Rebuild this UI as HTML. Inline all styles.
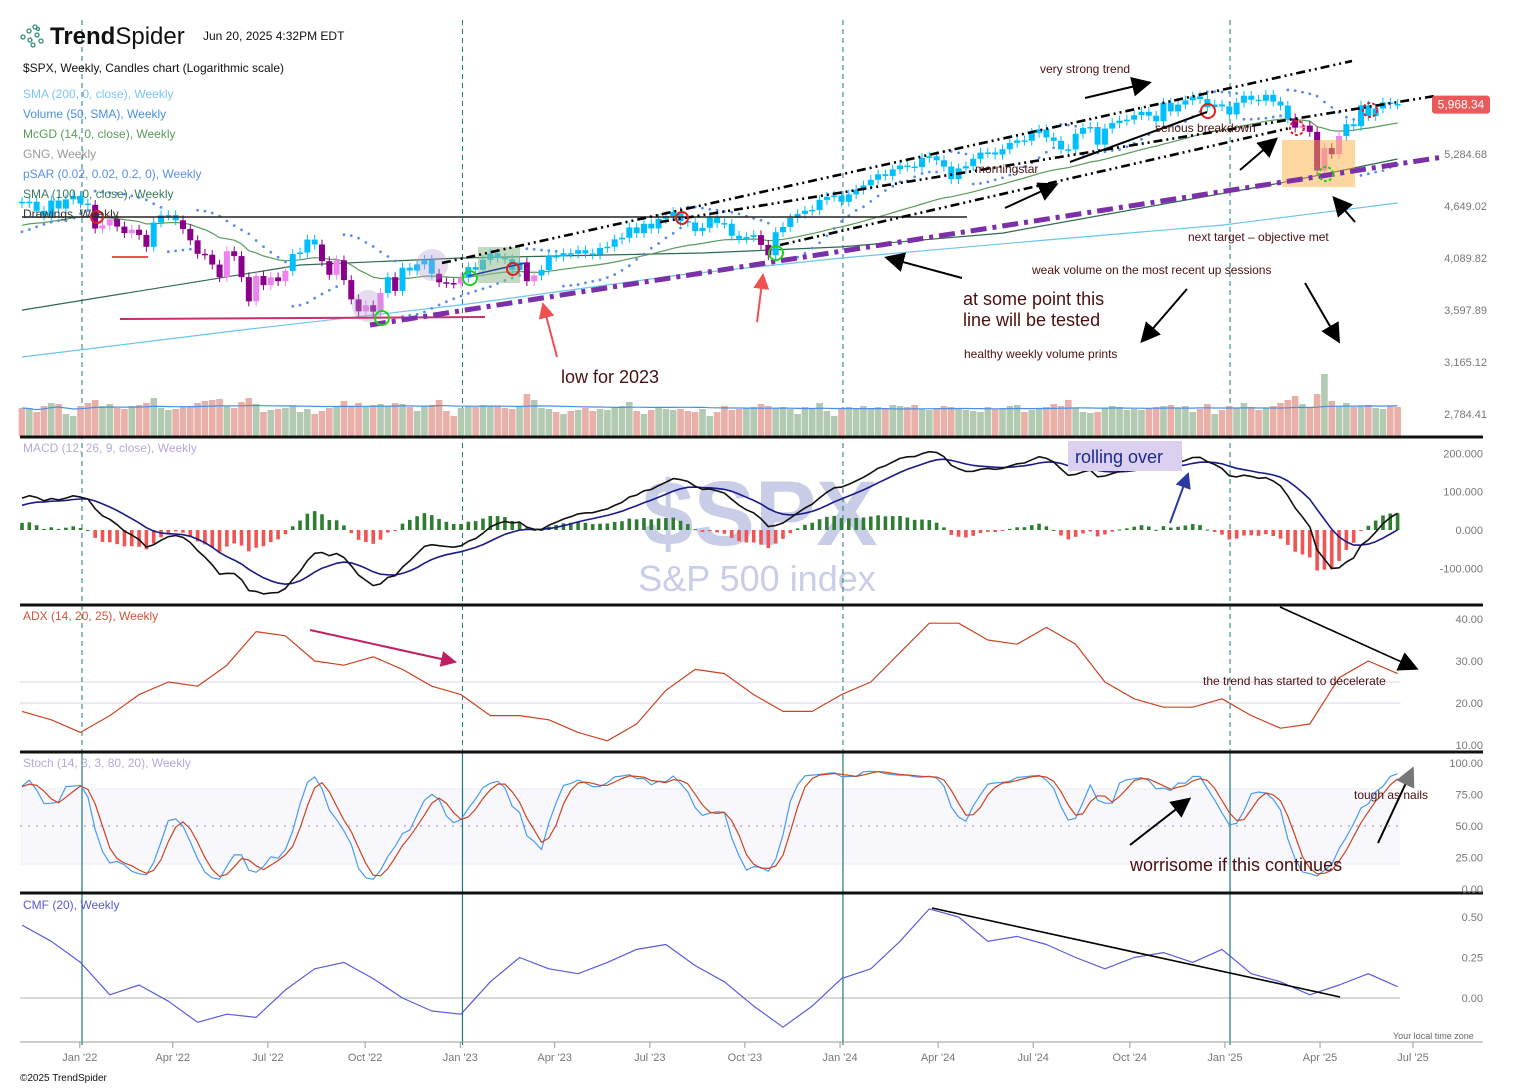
<!DOCTYPE html>
<html><head><meta charset="utf-8"><title>SPX Weekly</title>
<style>
html,body{margin:0;padding:0;background:#fff;}
#wrap{position:relative;width:1513px;height:1088px;overflow:hidden;font-family:"Liberation Sans",sans-serif;}
svg{position:absolute;left:0;top:0;}
text{font-family:"Liberation Sans",sans-serif;}
</style></head>
<body>
<div id="wrap">
<svg id="chart" width="1513" height="1088" viewBox="0 0 1513 1088">
<defs>
<marker id="ahR" markerWidth="20" markerHeight="20" refX="14" refY="8" orient="auto" markerUnits="userSpaceOnUse"><path d="M0,0 L16,8 L0,16 Z" fill="#f05050"/></marker>
<marker id="ahK" markerWidth="24" markerHeight="24" refX="16" refY="10" orient="auto" markerUnits="userSpaceOnUse"><path d="M0,0 L20,10 L0,20 Z" fill="#000"/></marker>
<marker id="ahN" markerWidth="20" markerHeight="20" refX="14" refY="8" orient="auto" markerUnits="userSpaceOnUse"><path d="M0,0 L16,8 L0,16 Z" fill="#2a3aa0"/></marker>
<marker id="ahM" markerWidth="20" markerHeight="20" refX="14" refY="8" orient="auto" markerUnits="userSpaceOnUse"><path d="M0,0 L16,8 L0,16 Z" fill="#c02060"/></marker>
<marker id="ahG" markerWidth="24" markerHeight="24" refX="16" refY="10" orient="auto" markerUnits="userSpaceOnUse"><path d="M0,0 L20,10 L0,20 Z" fill="#777"/></marker>
</defs>
<g id="bg">
  <rect x="20" y="789" width="1380" height="75" fill="#f7f7fc"/>
  <line x1="20" y1="826" x2="1400" y2="826" stroke="#b9a6dc" stroke-dasharray="2,6" stroke-width="1.5"/>
  <line x1="20" y1="789" x2="1400" y2="789" stroke="#ececf6"/>
  <line x1="20" y1="864" x2="1400" y2="864" stroke="#ececf6"/>
  <line x1="20" y1="682" x2="1400" y2="682" stroke="#d8d0ec"/>
  <line x1="20" y1="703" x2="1400" y2="703" stroke="#d8d0ec"/>
  <line x1="20" y1="998" x2="1400" y2="998" stroke="#b0b0b0"/>
  <text x="760" y="545" font-size="92" font-weight="bold" fill="#c9cde8" text-anchor="middle">$SPX</text>
  <text x="757" y="591" font-size="36" fill="#c9cde8" text-anchor="middle">S&amp;P 500 index</text>
</g>
<g id="vlines"></g>
<g id="series"></g>
<g id="annot">
  <rect x="478" y="247" width="42" height="36" fill="#8fbc8f" opacity="0.55"/>
  <rect x="1282" y="140" width="73" height="47" fill="#fbb040" opacity="0.5"/>
  <circle cx="432" cy="265" r="16" fill="#b89ad0" opacity="0.35"/>
  <circle cx="368" cy="306" r="16" fill="#b89ad0" opacity="0.35"/>
  <line x1="22" y1="217" x2="967" y2="217" stroke="#222" stroke-width="1.6"/>
  <line x1="112" y1="257" x2="148" y2="257" stroke="#f05050" stroke-width="2"/>
  <line x1="120" y1="319" x2="485" y2="317" stroke="#c8306a" stroke-width="2"/>
  <line x1="442" y1="263" x2="1352" y2="61" stroke="#000" stroke-width="2.6" stroke-dasharray="9,4,2,4,2,4"/>
  <line x1="660" y1="222" x2="1435" y2="96" stroke="#000" stroke-width="2.6" stroke-dasharray="9,4,2,4,2,4"/>
  <line x1="780" y1="245" x2="1290" y2="128" stroke="#000" stroke-width="2.6" stroke-dasharray="9,4,2,4,2,4"/>
  <line x1="468" y1="276" x2="525" y2="263" stroke="#2a3aa0" stroke-width="1.5"/>
  <line x1="370" y1="325" x2="1443" y2="157" stroke="#7b2fa8" stroke-width="5" stroke-dasharray="16,6,4,6"/>
  <circle cx="97" cy="217" r="6" fill="none" stroke="#e02020" stroke-width="2"/>
  <circle cx="682" cy="218" r="6" fill="none" stroke="#e02020" stroke-width="2"/>
  <circle cx="513" cy="269" r="6" fill="none" stroke="#e02020" stroke-width="2"/>
  <circle cx="1208" cy="111" r="7" fill="none" stroke="#e02020" stroke-width="2"/>
  <circle cx="1297" cy="128" r="7" fill="none" stroke="#e02020" stroke-width="2" stroke-dasharray="3,2"/>
  <circle cx="1370" cy="110" r="7" fill="none" stroke="#e02020" stroke-width="2" stroke-dasharray="3,2"/>
  <circle cx="382" cy="318" r="7" fill="none" stroke="#20d020" stroke-width="2"/>
  <circle cx="470" cy="278" r="7" fill="none" stroke="#20d020" stroke-width="2"/>
  <circle cx="776" cy="253" r="7" fill="none" stroke="#20d020" stroke-width="2"/>
  <circle cx="1326" cy="174" r="7" fill="none" stroke="#20d020" stroke-width="2" stroke-dasharray="3,2"/>
  <line x1="1085" y1="98" x2="1148" y2="83" stroke="#000" stroke-width="2" marker-end="url(#ahK)"/>
  <line x1="1070" y1="162" x2="1207" y2="112" stroke="#000" stroke-width="2"/>
  <line x1="1240" y1="170" x2="1275" y2="140" stroke="#000" stroke-width="2" marker-end="url(#ahK)"/>
  <line x1="1005" y1="208" x2="1055" y2="185" stroke="#000" stroke-width="2" marker-end="url(#ahK)"/>
  <line x1="962" y1="278" x2="888" y2="258" stroke="#000" stroke-width="2" marker-end="url(#ahK)"/>
  <line x1="1355" y1="222" x2="1335" y2="199" stroke="#000" stroke-width="2" marker-end="url(#ahK)"/>
  <line x1="1187" y1="289" x2="1143" y2="340" stroke="#000" stroke-width="2" marker-end="url(#ahK)"/>
  <line x1="1305" y1="283" x2="1338" y2="340" stroke="#000" stroke-width="2" marker-end="url(#ahK)"/>
  <line x1="557" y1="357" x2="543" y2="304" stroke="#f05050" stroke-width="2" marker-end="url(#ahR)"/>
  <line x1="757" y1="322" x2="763" y2="275" stroke="#f05050" stroke-width="2" marker-end="url(#ahR)"/>
  <rect x="1068" y="441" width="114" height="30" fill="#dcd0f0"/>
  <line x1="1170" y1="523" x2="1188" y2="474" stroke="#2a3aa0" stroke-width="2" marker-end="url(#ahN)"/>
  <line x1="310" y1="630" x2="455" y2="662" stroke="#c02060" stroke-width="2" marker-end="url(#ahM)"/>
  <line x1="1280" y1="607" x2="1415" y2="668" stroke="#000" stroke-width="1.6" marker-end="url(#ahK)"/>
  <line x1="1130" y1="845" x2="1188" y2="800" stroke="#000" stroke-width="2" marker-end="url(#ahK)"/>
  <line x1="1378" y1="843" x2="1412" y2="770" stroke="#000" stroke-width="2" marker-end="url(#ahG)"/>
  <line x1="932" y1="908" x2="1340" y2="997" stroke="#000" stroke-width="1.6"/>
  <g fill="#4a1010" font-size="12">
    <text x="1040" y="73">very strong trend</text>
    <text x="975" y="173">morningstar</text>
    <text x="1155" y="132">serious breakdown</text>
    <text x="1188" y="241">next target – objective met</text>
    <text x="1032" y="274">weak volume on the most recent up sessions</text>
    <text x="963" y="305" font-size="18">at some point this</text>
    <text x="963" y="326" font-size="18">line will be tested</text>
    <text x="964" y="358">healthy weekly volume prints</text>
    <text x="561" y="383" font-size="18">low for 2023</text>
    <text x="1075" y="463" font-size="18" fill="#1a2a8a">rolling over</text>
    <text x="1203" y="685">the trend has started to decelerate</text>
    <text x="1354" y="799">tough as nails</text>
    <text x="1130" y="871" font-size="18">worrisome if this continues</text>
  </g>
</g>
<g id="panels">
  <line x1="20" y1="437" x2="1483" y2="437" stroke="#111" stroke-width="3"/>
  <line x1="20" y1="605" x2="1483" y2="605" stroke="#111" stroke-width="3"/>
  <line x1="20" y1="752" x2="1483" y2="752" stroke="#111" stroke-width="3"/>
  <line x1="20" y1="893" x2="1483" y2="893" stroke="#111" stroke-width="3"/>
  <line x1="20" y1="1042" x2="1483" y2="1042" stroke="#999" stroke-width="1"/>
</g>
<g id="axes"></g>
<g id="header">
  <g fill="none" stroke="#2e8b7a" stroke-width="1.3">
    <circle cx="23" cy="37" r="2"/><circle cx="29" cy="31" r="2"/><circle cx="35" cy="27" r="2"/><circle cx="30" cy="40" r="2"/><circle cx="37" cy="35" r="2"/><circle cx="41" cy="41" r="2"/><circle cx="33" cy="45" r="2"/><circle cx="38" cy="29" r="1.5"/>
  </g>
  <text x="50" y="44" font-size="24" fill="#111"><tspan font-weight="bold">Trend</tspan>Spider</text>
  <text x="203" y="40" font-size="12" fill="#111">Jun 20, 2025 4:32PM EDT</text>
  <text x="23" y="72" font-size="12" fill="#111">$SPX, Weekly, Candles chart (Logarithmic scale)</text>
  <text x="23" y="98" font-size="12" fill="#79c7f2">SMA (200, 0, close), Weekly</text>
  <text x="23" y="118" font-size="12" fill="#4a90e2">Volume (50, SMA), Weekly</text>
  <text x="23" y="138" font-size="12" fill="#5a9a5a">McGD (14, 0, close), Weekly</text>
  <text x="23" y="158" font-size="12" fill="#999">GNG, Weekly</text>
  <text x="23" y="178" font-size="12" fill="#5b8fe6">pSAR (0.02, 0.02, 0.2, 0), Weekly</text>
  <text x="23" y="198" font-size="12" fill="#3a7a5a">SMA (100, 0, close), Weekly</text>
  <text x="23" y="218" font-size="12" fill="#333">Drawings, Weekly</text>
  <text x="23" y="452" font-size="12" fill="#b8a8d8">MACD (12, 26, 9, close), Weekly</text>
  <text x="23" y="620" font-size="12" fill="#d2553a">ADX (14, 20, 25), Weekly</text>
  <text x="23" y="767" font-size="12" fill="#b8a8d8">Stoch (14, 3, 3, 80, 20), Weekly</text>
  <text x="23" y="909" font-size="12" fill="#5a5ad8">CMF (20), Weekly</text>
  <text x="1393" y="1039" font-size="9" fill="#666">Your local time zone</text>
  <text x="20" y="1081" font-size="10" fill="#111">©2025 TrendSpider</text>
</g>
</svg>
</div>
<script>
const warmCloses=[4230,4247,4166,4281,4352,4370,4327,4412,4395,4437,4468,4442,4509,4528,4536,4458,4432,4455,4357,4391,4471,4545,4605,4566,4697];
const weekCloses=[4682,4698,4594,4538,4712,4620,4725,4766,
4677,4662,4398,4432,4500,4419,4349,4385,4329,4204,4463,4543,4546,4488,4393,4272,4132,4123,4024,3901,4158,4109,3901,3675,3912,3825,3899,3863,3962,4130,4145,4280,4228,4058,3924,4067,3873,3693,3586,3640,3583,3752,3901,3771,3993,3965,4026,4072,3934,3852,3845,3840,
3895,3999,3973,4071,4136,4090,4079,3970,4046,3862,3917,3971,4109,4105,4138,4133,4169,4136,4124,4192,4205,4282,4299,4410,4348,4450,4399,4505,4536,4582,4478,4464,4370,4406,4516,4457,4450,4320,4288,4308,4327,4224,4117,4358,4415,4514,4559,4595,4604,4719,4755,4770,
4697,4784,4840,4891,4959,5027,5006,5089,5137,5124,5117,5234,5254,5204,5123,4967,5100,5128,5223,5303,5305,5278,5347,5432,5465,5460,5567,5615,5505,5459,5346,5344,5554,5634,5648,5408,5626,5703,5738,5751,5815,5864,5808,5729,5995,5870,5969,6032,6090,6051,5931,5971,
5942,5827,5997,6101,6041,6026,6115,6013,5955,5770,5639,5668,5581,5074,5363,5283,5525,5687,5660,5958,5803,5912,6000,5977,5968.34];
const weekVolumes=[28,27,24,30,33,32,22,20,
30,33,36,30,32,28,27,30,31,33,38,28,26,27,29,30,33,35,36,37,30,28,34,38,32,24,26,27,28,30,24,27,22,25,28,30,35,29,33,30,31,32,30,33,32,29,25,30,31,36,25,20,
28,30,29,31,30,30,28,27,30,42,36,28,27,24,22,25,26,28,25,27,26,28,30,34,25,22,26,28,27,26,27,25,24,27,20,24,30,26,27,28,29,32,30,28,29,27,22,29,27,33,25,20,
28,29,27,30,27,29,28,31,30,29,31,27,26,28,30,29,27,26,25,24,29,27,28,30,31,24,26,28,29,32,30,36,28,24,23,24,28,30,29,26,27,26,28,29,30,31,28,30,24,27,32,22,
26,30,28,33,29,26,28,30,33,36,40,32,28,42,62,35,30,33,29,30,31,28,27,30,29];
const adxValues=[18,16,13,17,22,25,24,29,37,36,30,29,31,28,24,22,17,17,16,13,11,15,23,28,27,22,18,18,22,25,32,39,39,35,34,38,34,25,21,19,19,21,17,14,15,26,30,27];
const cmfValues=[0.45,0.35,0.22,0.02,0.08,-0.02,-0.15,-0.1,-0.12,0.05,0.18,0.22,0.12,0.0,-0.08,-0.1,0.1,0.25,0.18,0.15,0.22,0.3,0.33,0.2,0.1,-0.05,-0.18,-0.05,0.12,0.18,0.35,0.55,0.5,0.35,0.38,0.33,0.25,0.18,0.25,0.28,0.22,0.3,0.15,0.1,0.02,0.08,0.15,0.07];
const sma200Idx=[0,30,60,90,112,140,164,188];
const sma200Values=[3204,3425,3643,3923,4090,4275,4435,4683];
const sma100Idx=[0,38,60,93,112,134,172,188];
const sma100Values=[3597,4020,4090,4140,4203,4349,4920,5220];
const priceTicks=[5284.68,4649.02,4089.82,3597.89,3165.12,2784.41];
const macdTicks=[200,100,0,-100];
const adxTicks=[40,30,20,10];
const stochTicks=[100,75,50,25,0];
const cmfTicks=[0.5,0.25,0];
const xLabels=["Jan '22","Apr '22","Jul '22","Oct '22","Jan '23","Apr '23","Jul '23","Oct '23","Jan '24","Apr '24","Jul '24","Oct '24","Jan '25","Apr '25","Jul '25"];
const xLabelIdx=[7.9,20.6,33.6,46.9,59.9,72.8,85.8,98.8,111.8,125.2,138.2,151.4,164.4,177.4,190.1];
const markerIdx=[8.2,60.2,112.2,165.1];

const NS='http://www.w3.org/2000/svg';
function xOf(i){return 22+i*7.317;}
function yP(p){return 154-Math.log(p/5284.68)*405.7;}
function yM(v){return 530-v*0.383;}
function yA(v){return 703-(v-20)*4.2;}
function yS(v){return 889-v*1.26;}
function yC(v){return 998-v*162;}
function el(tag,attrs,parent){const e=document.createElementNS(NS,tag);for(const k in attrs)e.setAttribute(k,attrs[k]);parent.appendChild(e);return e;}
const S=document.getElementById('series');
const AX=document.getElementById('axes');
const VL=document.getElementById('vlines');

markerIdx.forEach(function(m){
  const a=el('line',{x1:xOf(m),y1:20,x2:xOf(m),y2:752,stroke:'#1a7a7a','stroke-dasharray':'5,4','stroke-width':1},VL);
  
  
  const b=el('line',{x1:xOf(m),y1:752,x2:xOf(m),y2:1045,stroke:'#1a7a7a','stroke-width':1.2},VL);
  
  
});

const W=warmCloses.length;
const all=warmCloses.concat(weekCloses);
const n=weekCloses.length;
function ema(arr,p){const k=2/(p+1);const out=[];let v=arr[0];for(let i=0;i<arr.length;i++){v=i==0?arr[0]:arr[i]*k+v*(1-k);out.push(v);}return out;}
const opens=[],highs=[],lows=[];
for(let i=0;i<all.length;i++){const o=i==0?all[0]:all[i-1];opens.push(o);highs.push(Math.max(o,all[i])*1.012);lows.push(Math.min(o,all[i])*0.988);}
const md=[];{let m=all[0];for(let i=0;i<all.length;i++){if(i>0)m=m+(all[i]-m)/(14*Math.pow(all[i]/m,4));md.push(m);}}
const e12=ema(all,12),e26=ema(all,26);
const macd=all.map(function(v,i){return e12[i]-e26[i];});
const sig=ema(macd,9);
const rawK=all.map(function(c,i){const s=Math.max(0,i-13);let hi=-1e9,lo=1e9;for(let j=s;j<=i;j++){hi=Math.max(hi,highs[j]);lo=Math.min(lo,lows[j]);}return (c-lo)/(hi-lo)*100;});
function sma(arr,p){return arr.map(function(v,i){const s=Math.max(0,i-p+1);let t=0;for(let j=s;j<=i;j++)t+=arr[j];return t/(i-s+1);});}
const kS=sma(rawK,3),dS=sma(kS,3);
const sar=[];{let up=true,af=0.02,ep=highs[0],s=lows[0];for(let i=0;i<all.length;i++){if(i>0){s=s+af*(ep-s);if(up){s=Math.min(s,lows[i-1],i>1?lows[i-2]:lows[i-1]);if(lows[i]<s){up=false;s=ep;ep=lows[i];af=0.02;}else if(highs[i]>ep){ep=highs[i];af=Math.min(0.2,af+0.02);}}else{s=Math.max(s,highs[i-1],i>1?highs[i-2]:highs[i-1]);if(highs[i]>s){up=true;s=ep;ep=highs[i];af=0.02;}else if(lows[i]<ep){ep=lows[i];af=Math.min(0.2,af+0.02);}}}sar.push(s);}}
const volSma=sma(weekVolumes,50);

function poly(pts,stroke,w,name){const p=el('polyline',{points:pts.map(function(q){return q[0].toFixed(1)+','+q[1].toFixed(1);}).join(' '),fill:'none',stroke:stroke,'stroke-width':w,'stroke-linejoin':'round'},S);return p;}

for(let i=0;i<n;i++){
  const up=all[W+i]>=opens[W+i];
  const h=weekVolumes[i];
  const r=el('rect',{x:xOf(i)-3.3,y:436-h,width:6.6,height:h,fill:up?'#b2c9b2':'#e8b0a8'},S);
  
  
}
poly(volSma.map(function(v,i){return [xOf(i),436-v];}),'#4a90e2',1.2,'volume-sma-line');

poly(sma200Idx.map(function(ix,k){return [xOf(ix),yP(sma200Values[k])];}),'#6cc4f0',1.2,'sma200-line');
poly(sma100Idx.map(function(ix,k){return [xOf(ix),yP(sma100Values[k])];}),'#2e6a4e',1.2,'sma100-line');
poly(md.slice(W).map(function(v,i){return [xOf(i),yP(v)];}),'#5a9a5a',1.2,'mcgd-line');
for(let i=0;i<n;i++){
  const c=el('circle',{cx:xOf(i),cy:yP(sar[W+i]),r:1.4,fill:'#5b8fe6'},S);
  
  
}
for(let i=0;i<n;i++){
  const j=W+i,c=all[j],o=opens[j];
  let col;
  const rising=md[j]>md[j-1];
  if(c>md[j]){col=rising?'#00bfff':'#7fffd4';}
  else if(rising){col='#d2691e';}
  else{col=c<o?'#8b008b':'#ee82ee';}
  const x=xOf(i);
  const wk=el('line',{x1:x,y1:yP(highs[j]),x2:x,y2:yP(lows[j]),stroke:col,'stroke-width':1},S);
  
  
  const top=yP(Math.max(o,c)),bot=yP(Math.min(o,c));
  const b=el('rect',{x:x-3,y:top,width:6,height:Math.max(1.5,bot-top),fill:col},S);
  
  
}
for(let i=0;i<n;i++){
  const h=macd[W+i]-sig[W+i];
  const y0=yM(0),y1=yM(h);
  const r=el('rect',{x:xOf(i)-1.8,y:Math.min(y0,y1),width:3.6,height:Math.max(1,Math.abs(y1-y0)),fill:h>=0?'#2e7d32':'#f05454'},S);
  
  
}
poly(sig.slice(W).map(function(v,i){return [xOf(i),yM(v)];}),'#1a1a8a',1.6,'macd-signal-line');
poly(macd.slice(W).map(function(v,i){return [xOf(i),yM(v)];}),'#111',1.6,'macd-line');
poly(adxValues.map(function(v,k){return [xOf(k*4),yA(v)];}),'#cc4422',1.2,'adx-line');
poly(kS.slice(W).map(function(v,i){return [xOf(i),yS(v)];}),'#4a9af0',1.2,'stoch-k-line');
poly(dS.slice(W).map(function(v,i){return [xOf(i),yS(v)];}),'#cc4422',1.2,'stoch-d-line');
poly(cmfValues.map(function(v,k){return [xOf(k*4),yC(v)];}),'#5a5ae0',1.2,'cmf-line');

function lab(x,y,t,name,anchor,fill,size){const e=el('text',{x:x,y:y,'font-size':size||11,fill:fill||'#777','text-anchor':anchor||'start'},AX);e.textContent=t;return e;}
priceTicks.forEach(function(p){lab(1487,yP(p)+4,p.toLocaleString('en-US',{minimumFractionDigits:2}),'price-tick-label','end');});
macdTicks.forEach(function(v){lab(1483,yM(v)+4,v.toFixed(3),'macd-tick-label','end');});
adxTicks.forEach(function(v){lab(1483,yA(v)+4,v.toFixed(2),'adx-tick-label','end');});
stochTicks.forEach(function(v){lab(1483,yS(v)+4,v.toFixed(2),'stoch-tick-label','end');});
cmfTicks.forEach(function(v){lab(1483,yC(v)+4,v.toFixed(2),'cmf-tick-label','end');});
xLabels.forEach(function(t,k){
  const x=xOf(xLabelIdx[k]);
  const tk=el('line',{x1:x,y1:1042,x2:x,y2:1048,stroke:'#999'},AX);
  
  
  lab(x,1061,t,'x-tick-label','middle','#777',11);
});
const lastP=weekCloses[n-1];
const tag=el('rect',{x:1432,y:yP(lastP)-9,width:58,height:18,rx:3,fill:'#ea5a5a'},AX);


lab(1461,yP(lastP)+4,lastP.toLocaleString('en-US',{minimumFractionDigits:2}),'last-price-label','middle','#fff',12);
</script>
</body></html>
